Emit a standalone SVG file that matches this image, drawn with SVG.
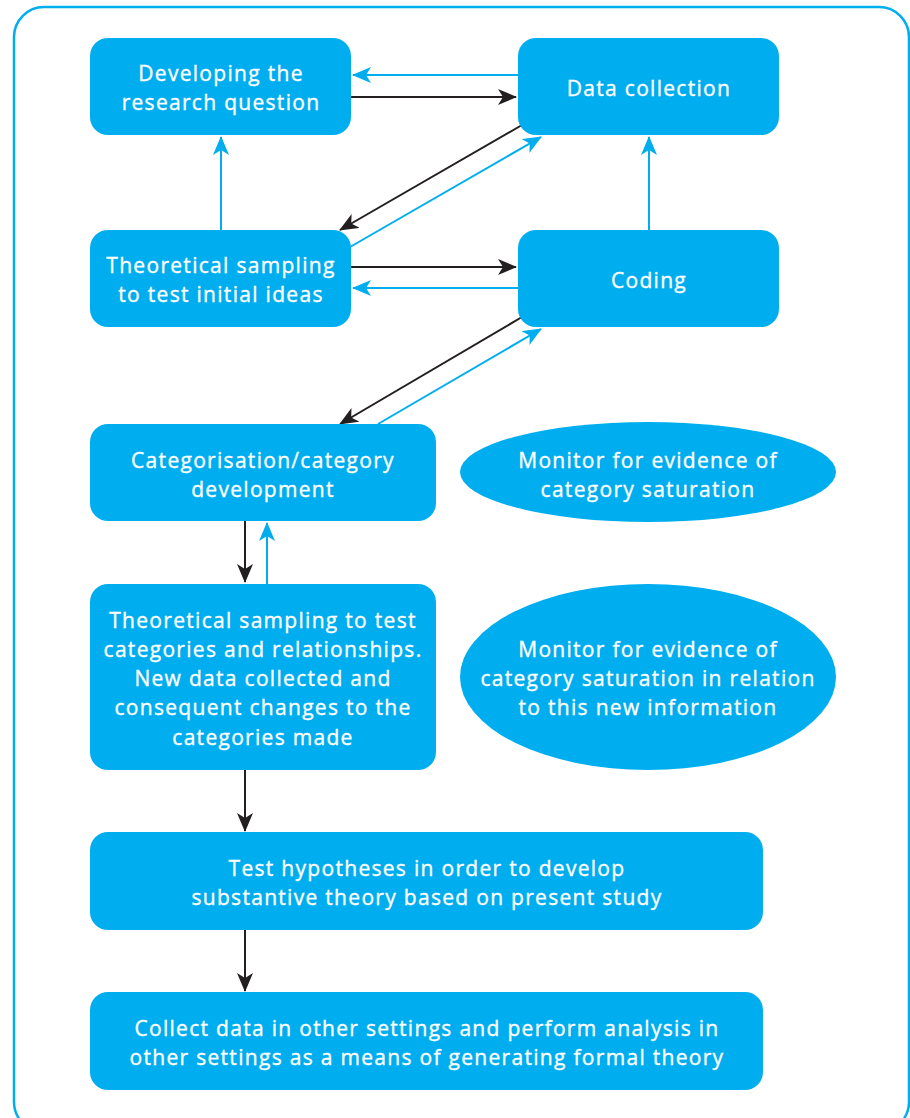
<svg xmlns="http://www.w3.org/2000/svg" width="910" height="1118" viewBox="0 0 910 1118">
<style>
.box{fill:#00AEEF;}
.t{fill:#fff;stroke:#fff;stroke-width:0.35px;font-family:"Open Sans","Liberation Sans",sans-serif;font-size:21px;font-weight:500;text-anchor:middle;letter-spacing:1.3px;}
.k{stroke:#231F20;stroke-width:2;fill:none;}
.b{stroke:#00AEEF;stroke-width:2;fill:none;}
</style>
<defs>
<marker id="ak" markerWidth="19" markerHeight="16" refX="18" refY="8" orient="auto" markerUnits="userSpaceOnUse">
<path d="M0,0 L19,8 L0,16 L5,8 z" fill="#231F20"/>
</marker>
<marker id="ab" markerWidth="19" markerHeight="16" refX="18" refY="8" orient="auto" markerUnits="userSpaceOnUse">
<path d="M0,0 L19,8 L0,16 L5,8 z" fill="#00AEEF"/>
</marker>
</defs>
<rect x="14" y="7" width="895" height="1125" rx="30" fill="#fff" stroke="#00AEEF" stroke-width="2.5"/>
<g id="connectors">
<line class="b" x1="518" y1="75" x2="353" y2="75" marker-end="url(#ab)"/>
<line class="k" x1="351" y1="97" x2="516" y2="97" marker-end="url(#ak)"/>
<line class="k" x1="522" y1="125" x2="340" y2="230" marker-end="url(#ak)"/>
<line class="b" x1="350" y1="247" x2="541" y2="137" marker-end="url(#ab)"/>
<line class="b" x1="221" y1="230" x2="221" y2="137" marker-end="url(#ab)"/>
<line class="b" x1="649" y1="230" x2="649" y2="137" marker-end="url(#ab)"/>
<line class="k" x1="351" y1="267" x2="516" y2="267" marker-end="url(#ak)"/>
<line class="b" x1="518" y1="288" x2="353" y2="288" marker-end="url(#ab)"/>
<line class="k" x1="522" y1="317" x2="340" y2="424" marker-end="url(#ak)"/>
<line class="b" x1="378" y1="424" x2="541" y2="329" marker-end="url(#ab)"/>
<line class="k" x1="245" y1="521" x2="245" y2="582" marker-end="url(#ak)"/>
<line class="b" x1="267" y1="584" x2="267" y2="523" marker-end="url(#ab)"/>
<line class="k" x1="245" y1="770" x2="245" y2="831" marker-end="url(#ak)"/>
<line class="k" x1="245" y1="930" x2="245" y2="991" marker-end="url(#ak)"/>
</g>
<g id="n1"><rect class="box" x="90" y="38" width="261" height="97" rx="18"/>
<text class="t" x="221" y="81">Developing the</text><text class="t" x="221" y="110">research question</text></g>
<g id="n2"><rect class="box" x="518" y="38" width="261" height="97" rx="18"/>
<text class="t" x="649" y="96">Data collection</text></g>
<g id="n3"><rect class="box" x="90" y="230" width="261" height="97" rx="18"/>
<text class="t" x="221" y="273">Theoretical sampling</text><text class="t" x="221" y="302">to test initial ideas</text></g>
<g id="n4"><rect class="box" x="518" y="230" width="261" height="97" rx="18"/>
<text class="t" x="649" y="288">Coding</text></g>
<g id="n5"><rect class="box" x="90" y="424" width="346" height="97" rx="18"/>
<text class="t" x="263" y="468">Categorisation/category</text><text class="t" x="263" y="497">development</text></g>
<g id="n6"><ellipse class="box" cx="648" cy="472" rx="188" ry="50"/>
<text class="t" x="648" y="468">Monitor for evidence of</text><text class="t" x="648" y="497">category saturation</text></g>
<g id="n7"><rect class="box" x="90" y="584" width="346" height="186" rx="18"/>
<text class="t" x="263" y="628">Theoretical sampling to test</text><text class="t" x="263" y="657">categories and relationships.</text><text class="t" x="263" y="686">New data collected and</text><text class="t" x="263" y="715">consequent changes to the</text><text class="t" x="263" y="745">categories made</text></g>
<g id="n8"><ellipse class="box" cx="648" cy="677" rx="188" ry="93"/>
<text class="t" x="648" y="657">Monitor for evidence of</text><text class="t" x="648" y="686">category saturation in relation</text><text class="t" x="648" y="715">to this new information</text></g>
<g id="n9"><rect class="box" x="90" y="832" width="673" height="98" rx="18"/>
<text class="t" x="427" y="876">Test hypotheses in order to develop</text><text class="t" x="427" y="905">substantive theory based on present study</text></g>
<g id="n10"><rect class="box" x="90" y="992" width="673" height="98" rx="18"/>
<text class="t" x="427" y="1036">Collect data in other settings and perform analysis in</text><text class="t" x="427" y="1065">other settings as a means of generating formal theory</text></g>
</svg>
